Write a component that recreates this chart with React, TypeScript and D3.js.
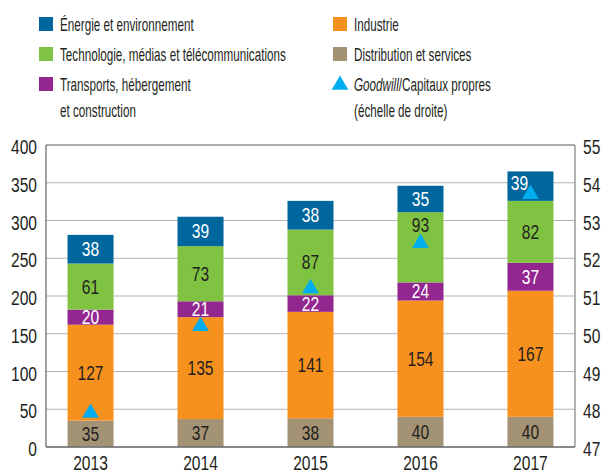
import React from "react";
import * as d3 from "d3";

const years = ["2013", "2014", "2015", "2016", "2017"];
const distribution = [35, 37, 38, 40, 40];
const industrie = [127, 135, 141, 154, 167];
const transports = [20, 21, 22, 24, 37];
const technologie = [61, 73, 87, 93, 82];
const energie = [38, 39, 38, 35, 39];
const goodwill = [47.9, 50.2, 51.2, 52.4, 53.7];
const leftTicks = [0, 50, 100, 150, 200, 250, 300, 350, 400];
const rightTicks = [47, 48, 49, 50, 51, 52, 53, 54, 55];

const seriesNames = [
  "Distribution et services",
  "Industrie",
  "Transports, hébergement et construction",
  "Technologie, médias et télécommunications",
  "Énergie et environnement",
];
const seriesValues = [distribution, industrie, transports, technologie, energie];
const seriesColors = ["#a39274", "#f7911e", "#93278f", "#80c242", "#00679e"];
const labelColors = ["#231f20", "#231f20", "#ffffff", "#231f20", "#ffffff"];
const triColor = "#00aeef";

// label nudges (layout only) to keep values clear of the triangles: "series-index" -> [dx, dy]
const labelNudge: Record<string, [number, number]> = {
  "3-3": [0, -22],
  "4-4": [-11, -3],
};

const FONT = "'Liberation Sans', Arial, sans-serif";

function CText(props: any) {
  const { x, y, sx = 0.8, children, ...rest } = props;
  return (
    <text transform={`translate(${x},${y}) scale(${sx},1)`} {...rest}>
      {children}
    </text>
  );
}

export default function App() {
  const W = 602, H = 473;
  const left = 46, right = 575, top = 145, bottom = 447;
  const x = d3.scalePoint<string>().domain(years).range([left, right]).padding(0.405);
  const y = d3.scaleLinear().domain([0, 400]).range([bottom, top]);
  const y2 = d3.scaleLinear().domain([47, 55]).range([bottom, top]);
  const barW = 46;

  const rows = years.map((yr, i) => {
    const r: any = { year: yr };
    seriesNames.forEach((n, k) => (r[n] = seriesValues[k][i]));
    return r;
  });
  const stack = d3.stack<any>().keys(seriesNames)(rows);
  const tri = d3.symbol().type(d3.symbolTriangle).size(120)();

  const legend = [
    { x: 39, y: 17, kind: "sq", color: seriesColors[4], lines: ["Énergie et environnement"] },
    { x: 39, y: 47, kind: "sq", color: seriesColors[3], lines: ["Technologie, médias et télécommunications"] },
    { x: 39, y: 77, kind: "sq", color: seriesColors[2], lines: ["Transports, hébergement", "et construction"] },
    { x: 333, y: 17, kind: "sq", color: seriesColors[1], lines: ["Industrie"] },
    { x: 333, y: 47, kind: "sq", color: seriesColors[0], lines: ["Distribution et services"] },
    { x: 333, y: 77, kind: "tri", color: triColor, lines: ["Goodwill/Capitaux propres", "(échelle de droite)"] },
  ];

  return (
    <svg width={W} height={H} style={{ position: "absolute", left: 0, top: 0 }} fontFamily={FONT}>
      <rect width={W} height={H} fill="#fff" />
      {leftTicks.map((t) => (
        <line key={t} x1={left} x2={right} y1={y(t)} y2={y(t)} stroke="#b3b3b3" strokeWidth={1.2} />
      ))}
      <line x1={left} x2={right} y1={top} y2={top} stroke="#808080" strokeWidth={1.2} />
      <line x1={right} x2={right} y1={top} y2={bottom} stroke="#808080" strokeWidth={1.2} />
      {stack.map((s, k) => (
        <g key={k}>
          {s.map((d, i) => (
            <rect key={i} x={x(years[i])! - barW / 2} y={y(d[1])} width={barW} height={y(d[0]) - y(d[1])} fill={seriesColors[k]} />
          ))}
        </g>
      ))}
      <line x1={left} x2={left} y1={top} y2={bottom} stroke="#6d6e71" strokeWidth={1.3} />
      <line x1={left} x2={right} y1={bottom} y2={bottom} stroke="#6d6e71" strokeWidth={1.3} />
      {stack.map((s, k) =>
        s.map((d, i) => {
          const [dx, dy] = labelNudge[`${k}-${i}`] || [0, 0];
          return (
            <CText key={`${k}-${i}`} x={x(years[i])! + dx} y={(y(d[0]) + y(d[1])) / 2 + 7 + dy} textAnchor="middle" fontSize={19.5} fill={labelColors[k]}>
              {seriesValues[k][i]}
            </CText>
          );
        })
      )}
      {goodwill.map((g, i) => (
        <path key={i} d={tri!} transform={`translate(${x(years[i])},${y2(g)})`} fill={triColor} />
      ))}
      {leftTicks.map((t) => (
        <CText key={t} x={37} y={y(t) + 9} textAnchor="end" fontSize={19.5} fill="#231f20">{t}</CText>
      ))}
      {rightTicks.map((t) => (
        <CText key={t} x={583} y={y2(t) + 9} textAnchor="start" fontSize={19.5} fill="#231f20">{t}</CText>
      ))}
      {years.map((yr) => (
        <CText key={yr} x={x(yr)} y={469.5} textAnchor="middle" fontSize={19.5} fill="#231f20">{yr}</CText>
      ))}
      {legend.map((l, i) => (
        <g key={i}>
          {l.kind === "sq" ? (
            <rect x={l.x} y={l.y} width={14} height={14} fill={l.color} />
          ) : (
            <path d={d3.symbol().type(d3.symbolTriangle).size(120)()!} transform={`translate(${l.x + 7},${l.y + 8})`} fill={l.color} />
          )}
          {l.lines.map((ln, j) => (
            <CText key={j} x={l.x + 21} y={l.y + 13.5 + j * 26} sx={0.66} fontSize={17.7} fill="#231f20">
              {ln.startsWith("Goodwill") ? (
                <>
                  <tspan fontStyle="italic">Goodwill</tspan>
                  {ln.slice(8)}
                </>
              ) : (
                ln
              )}
            </CText>
          ))}
        </g>
      ))}
    </svg>
  );
}
